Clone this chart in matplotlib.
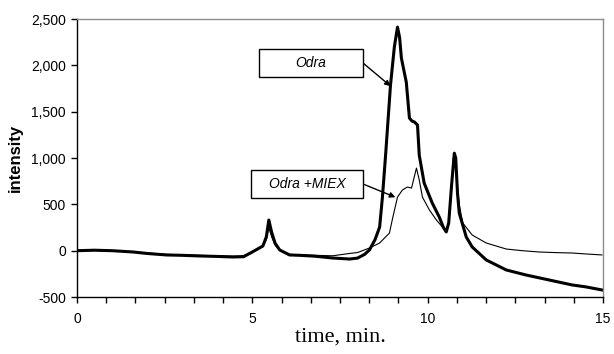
import matplotlib
matplotlib.use('Agg')
import matplotlib.pyplot as plt
from matplotlib.patches import Rectangle
from matplotlib.ticker import FuncFormatter, MultipleLocator
import numpy as np

# Odra (thick line)
t_odra = [0, 0.5, 1.0, 1.6, 2.0, 2.55, 3.0, 3.5, 4.0, 4.45, 4.75, 5.0, 5.2, 5.3,
          5.4, 5.47, 5.55, 5.65, 5.78, 6.06, 6.35, 6.8, 7.29, 7.77, 8.0, 8.2,
          8.34, 8.5, 8.63, 8.71, 8.8, 8.85, 8.94, 9.05, 9.14, 9.2, 9.25, 9.39,
          9.48, 9.55, 9.62, 9.71, 9.76, 9.9, 10.13, 10.33, 10.45, 10.53, 10.6,
          10.68, 10.76, 10.8, 10.85, 10.9, 11.1, 11.27, 11.67, 12.24, 12.8,
          13.46, 14.12, 14.5, 14.97]
i_odra = [0, 5, 0, -14, -30, -46, -50, -57, -62, -68, -65, -14, 29, 50,
          150, 331, 200, 80, 8, -46, -50, -60, -79, -90, -80, -40,
          8, 120, 255, 579, 1031, 1302, 1788, 2200, 2414, 2300, 2080, 1820,
          1432, 1400, 1390, 1357, 1031, 730, 515, 364, 250, 202, 300,
          700, 1053, 1000, 622, 407, 148, 40, -100, -208, -262,
          -316, -370, -390, -424]

# Odra +MIEX (thin line)
t_miex = [0, 0.5, 1.0, 1.6, 2.0, 2.55, 3.0, 3.5, 4.0, 4.45, 4.75, 5.0, 5.2, 5.3,
          5.4, 5.47, 5.55, 5.65, 5.78, 6.06, 6.35, 6.8, 7.29, 7.77, 8.0, 8.34,
          8.63, 8.91, 9.0, 9.14, 9.28, 9.42, 9.54, 9.62, 9.68, 9.76, 9.85,
          10.05, 10.25, 10.42, 10.53, 10.6, 10.68, 10.73, 10.8, 10.9, 11.0,
          11.27, 11.67, 12.24, 12.7, 13.18, 13.6, 14.12, 14.5, 14.97]
i_miex = [0, 5, 0, -10, -25, -40, -45, -50, -55, -60, -55, -10, 30, 45,
          120, 250, 150, 60, 5, -40, -45, -50, -55, -30, -20, 29,
          83, 191, 350, 579, 655, 687, 676, 800, 892, 763, 579,
          439, 331, 255, 202, 280, 650, 1000, 900, 500, 299,
          169, 83, 18, 0, -14, -20, -25, -35, -46]

x_major = [0, 5, 10, 15]
y_major = [-500, 0, 500, 1000, 1500, 2000, 2500]

fig = plt.figure(figsize=(6.14, 3.54), dpi=100)
ax = fig.add_axes([0.1254, 0.161, 0.8567, 0.785])

ax.plot(t_odra, i_odra, color='black', lw=2.2, solid_joinstyle='round')
ax.plot(t_miex, i_miex, color='black', lw=0.8)

ax.set_xlim(0, 15)
ax.set_ylim(-500, 2500)
ax.set_xticks(x_major)
ax.set_yticks(y_major)
ax.xaxis.set_minor_locator(MultipleLocator(5 / 6))
ax.yaxis.set_major_formatter(FuncFormatter(lambda v, p: '{:,.0f}'.format(v)))

for lab in ax.get_xticklabels() + ax.get_yticklabels():
    lab.set_fontfamily('Liberation Sans')
    lab.set_fontsize(10)
ax.tick_params(axis='both', which='both', direction='out', length=4, width=1,
               color='black', pad=4)
ax.tick_params(axis='x', pad=7)

for s in ['left', 'bottom']:
    ax.spines[s].set_color('black')
    ax.spines[s].set_linewidth(1.0)
for s in ['top', 'right']:
    ax.spines[s].set_color('#8c8c8c')
    ax.spines[s].set_linewidth(1.0)

ax.set_ylabel('intensity', fontfamily='Liberation Sans', fontweight='bold',
              fontsize=12, labelpad=6)
ax.set_xlabel('time, min.', fontfamily='Liberation Serif', fontsize=16,
              labelpad=1)

# label boxes with arrows
labels = ['Odra', 'Odra +MIEX']
box_pos = [(0.4218, 0.7825, 0.1694, 0.0791), (0.4088, 0.4407, 0.1824, 0.0791)]
arrow_to = [(8.94, 1777), (9.08, 577)]
for txt, (bx, by, bw, bh), tgt in zip(labels, box_pos, arrow_to):
    fig.patches.append(Rectangle((bx, by), bw, bh, transform=fig.transFigure,
                                 facecolor='white', edgecolor='black', lw=1.0))
    fig.text(bx + bw / 2, by + bh / 2, txt, ha='center', va='center',
             fontfamily='Liberation Sans', fontstyle='italic', fontsize=10)
    ax.annotate('', xy=tgt, xycoords='data',
                xytext=(bx + bw, by + bh / 2), textcoords='figure fraction',
                arrowprops=dict(arrowstyle='-|>', color='black', lw=1.0,
                                mutation_scale=8, shrinkA=0, shrinkB=0))

fig.savefig('out.png', dpi=100)
